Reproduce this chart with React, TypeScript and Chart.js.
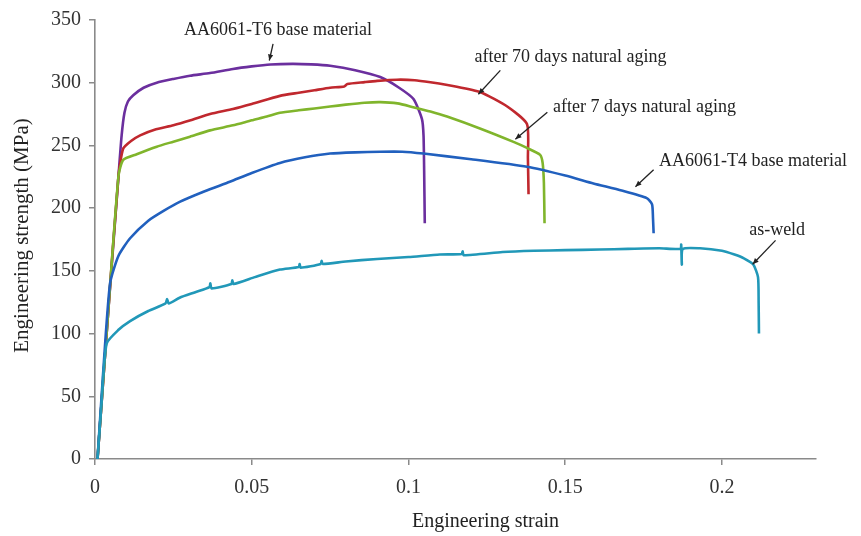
import React, { useEffect, useRef } from "react";
import { Chart, registerables } from "chart.js";

Chart.register(...registerables);

// strain values (x) and engineering stress (MPa, y)
const t6Strain = [0.0008, 0.004, 0.0075, 0.0085, 0.0094, 0.0105, 0.0122, 0.0155, 0.0197, 0.025, 0.0303, 0.0367, 0.044, 0.05, 0.056, 0.063, 0.069, 0.075, 0.083, 0.091, 0.097, 0.1016, 0.1043, 0.1048, 0.1050, 0.1052];
const t6Stress = [0, 110, 226, 258, 276, 285, 290, 296, 300, 303, 305.6, 307.7, 311, 313, 314.5, 315, 314.6, 313.5, 310, 304.5, 296, 287, 271, 258, 230, 188];

const d70Strain = [0.0008, 0.004, 0.0075, 0.009, 0.0115, 0.0144, 0.019, 0.025, 0.0305, 0.0367, 0.044, 0.05, 0.059, 0.065, 0.07, 0.075, 0.0795, 0.0805, 0.086, 0.09, 0.0963, 0.102, 0.107, 0.115, 0.123, 0.1315, 0.1378, 0.1381, 0.1383];
const d70Stress = [0, 110, 226, 247.5, 253.5, 258, 262.5, 266, 270, 275, 279, 283, 289.5, 292, 294, 296, 297, 299, 300.5, 301.5, 302.4, 302, 300.3, 297, 292.4, 281, 267, 240, 211];

const d7Strain = [0.0008, 0.004, 0.0075, 0.009, 0.0133, 0.0197, 0.025, 0.0303, 0.0367, 0.044, 0.05, 0.0548, 0.059, 0.065, 0.07, 0.075, 0.08, 0.086, 0.091, 0.0965, 0.1015, 0.107, 0.1123, 0.123, 0.1335, 0.1378, 0.142, 0.1428, 0.1432, 0.1434];
const d7Stress = [0, 110, 226, 238.5, 243, 249, 253, 257, 262, 266, 270, 273, 276, 278, 279.5, 281, 282.5, 284, 284.5, 283.5, 280.5, 277, 273, 263.3, 252.8, 248, 242.5, 236, 220, 188];

const t4Strain = [0.0008, 0.0025, 0.0048, 0.0075, 0.0112, 0.017, 0.022, 0.027, 0.035, 0.043, 0.05, 0.059, 0.067, 0.075, 0.083, 0.091, 0.098, 0.1048, 0.12, 0.1378, 0.15, 0.159, 0.168, 0.176, 0.1777, 0.1780, 0.1782];
const t4Stress = [0, 65, 140, 162, 176, 190, 198, 205, 213.5, 221, 228, 236, 240.5, 243.5, 244.5, 245, 245, 243.5, 239, 233, 226, 219.7, 214, 208, 203, 192, 180];

const weldStrain = [0.0008, 0.002, 0.0037, 0.0075, 0.0112, 0.017, 0.0225, 0.023, 0.0235, 0.027, 0.032, 0.0365, 0.0368, 0.0372, 0.0435, 0.0438, 0.0442, 0.051, 0.059, 0.065, 0.0653, 0.0656, 0.072, 0.0723, 0.0726, 0.08, 0.09, 0.1, 0.11, 0.117, 0.1173, 0.1176, 0.13, 0.14, 0.15, 0.161, 0.17, 0.18, 0.1868, 0.187, 0.1872, 0.1875, 0.193, 0.2, 0.204, 0.207, 0.21, 0.2115, 0.2117, 0.2118];
const weldStress = [0, 42, 92, 103, 110, 118, 124, 127.5, 124, 128.6, 133, 137, 140, 136, 139.5, 142.5, 139.5, 145, 151, 153, 155.5, 152.5, 155.5, 158, 155.5, 157.5, 159.5, 161, 163, 163.5, 165.5, 162.5, 165, 166, 166.5, 167, 167.5, 168, 167.5, 171, 155, 167.5, 168, 166, 163, 160, 155, 145, 125, 100];

const xTicks = [0, 0.05, 0.1, 0.15, 0.2];
const xTickLabels = ["0", "0.05", "0.1", "0.15", "0.2"];
const yTicks = [0, 50, 100, 150, 200, 250, 300, 350];

const seriesNames = ["AA6061-T6 base material", "after 70 days natural aging", "after 7 days natural aging", "AA6061-T4 base material", "as-weld"];
const seriesColors = ["#6b2f9e", "#c0282e", "#80b52c", "#2160be", "#2198b8"];

// annotation labels and arrow ends, in data units
const labelTexts = seriesNames;
const labelX = [0.0584, 0.1517, 0.1753, 0.2099, 0.2176];
const labelY = [341.5, 320, 280.5, 237.7, 182];
const arrowFromX = [0.0568, 0.1293, 0.1443, 0.1782, 0.2171];
const arrowFromY = [331, 309.8, 276.5, 230.6, 174.3];
const arrowToX = [0.0556, 0.1223, 0.1341, 0.1724, 0.2098];
const arrowToY = [317.7, 290.8, 255, 217, 155.3];

const FONT = "'Liberation Serif', 'Times New Roman', serif";

const pairs = (xs: number[], ys: number[]) => xs.map((x, i) => ({ x, y: ys[i] }));

const annotationPlugin = {
  id: "annotations",
  afterDraw(chart: any) {
    const { ctx, scales, chartArea } = chart;
    const xs = scales.x;
    const ys = scales.y;
    ctx.save();
    ctx.fillStyle = "#222";
    ctx.strokeStyle = "#222";
    ctx.font = `18px ${FONT}`;
    ctx.textAlign = "center";
    ctx.textBaseline = "middle";
    for (let i = 0; i < labelTexts.length; i++) {
      ctx.fillText(labelTexts[i], xs.getPixelForValue(labelX[i]), ys.getPixelForValue(labelY[i]));
      const x1 = xs.getPixelForValue(arrowFromX[i]);
      const y1 = ys.getPixelForValue(arrowFromY[i]);
      const x2 = xs.getPixelForValue(arrowToX[i]);
      const y2 = ys.getPixelForValue(arrowToY[i]);
      ctx.lineWidth = 1.3;
      ctx.beginPath();
      ctx.moveTo(x1, y1);
      ctx.lineTo(x2, y2);
      ctx.stroke();
      const ang = Math.atan2(y2 - y1, x2 - x1);
      const L = 6;
      const W = 2.6;
      ctx.beginPath();
      ctx.moveTo(x2, y2);
      ctx.lineTo(x2 - L * Math.cos(ang) + W * Math.sin(ang), y2 - L * Math.sin(ang) - W * Math.cos(ang));
      ctx.lineTo(x2 - L * Math.cos(ang) - W * Math.sin(ang), y2 - L * Math.sin(ang) + W * Math.cos(ang));
      ctx.closePath();
      ctx.fill();
    }
    // axis titles
    ctx.font = `20px ${FONT}`;
    ctx.fillText("Engineering strain", (chartArea.left + chartArea.right) / 2 + 30, chartArea.bottom + 63);
    ctx.font = `21px ${FONT}`;
    ctx.translate(22, (chartArea.top + chartArea.bottom) / 2 - 4);
    ctx.rotate(-Math.PI / 2);
    ctx.fillText("Engineering strength (MPa)", 0, 0);
    ctx.restore();
  },
};

export default function App() {
  const ref = useRef<HTMLCanvasElement | null>(null);
  useEffect(() => {
    if (!ref.current) return;
    const data = [
      pairs(t6Strain, t6Stress),
      pairs(d70Strain, d70Stress),
      pairs(d7Strain, d7Stress),
      pairs(t4Strain, t4Stress),
      pairs(weldStrain, weldStress),
    ];
    const chart = new Chart(ref.current, {
      type: "scatter",
      data: {
        datasets: data
          .map((d, i) => ({
            label: seriesNames[i],
            data: d,
            showLine: true,
            borderColor: seriesColors[i],
            backgroundColor: seriesColors[i],
            borderWidth: 2.6,
            pointRadius: 0,
            tension: 0.2,
          }))
          .reverse(),
      },
      options: {
        animation: false,
        responsive: false,
        devicePixelRatio: 1,
        layout: { padding: { top: 17, right: 45, left: 0, bottom: 0 } },
        plugins: { legend: { display: false }, tooltip: { enabled: false } },
        scales: {
          x: {
            type: "linear",
            min: 0,
            max: 0.23,
            afterFit: (s: any) => {
              s.height = 77;
            },
            afterBuildTicks: (s: any) => {
              s.ticks = xTicks.map((v) => ({ value: v }));
            },
            ticks: {
              color: "#333",
              font: { family: FONT, size: 20 },
              padding: 11,
              maxRotation: 0,
              callback: (v: any) => {
                const idx = xTicks.findIndex((t) => Math.abs(t - v) < 1e-9);
                return idx >= 0 ? xTickLabels[idx] : "";
              },
            },
            grid: { drawOnChartArea: false, drawTicks: true, tickLength: 6, color: "#8a8a8a", lineWidth: 1.5 },
            border: { color: "#8a8a8a", width: 1.6 },
          },
          y: {
            type: "linear",
            min: 0,
            max: 350,
            afterFit: (s: any) => {
              s.width = 95;
            },
            afterBuildTicks: (s: any) => {
              s.ticks = yTicks.map((v) => ({ value: v }));
            },
            ticks: {
              color: "#333",
              font: { family: FONT, size: 20 },
              padding: 8,
            },
            grid: { drawOnChartArea: false, drawTicks: true, tickLength: 6, color: "#8a8a8a", lineWidth: 1.5 },
            border: { color: "#8a8a8a", width: 1.6 },
          },
        },
      },
      plugins: [annotationPlugin],
    });
    return () => chart.destroy();
  }, []);
  return (
    <div style={{ position: "fixed", left: 0, top: 0, width: 861, height: 536, background: "#fff" }}>
      <canvas ref={ref} width={861} height={536} style={{ display: "block" }} />
    </div>
  );
}
